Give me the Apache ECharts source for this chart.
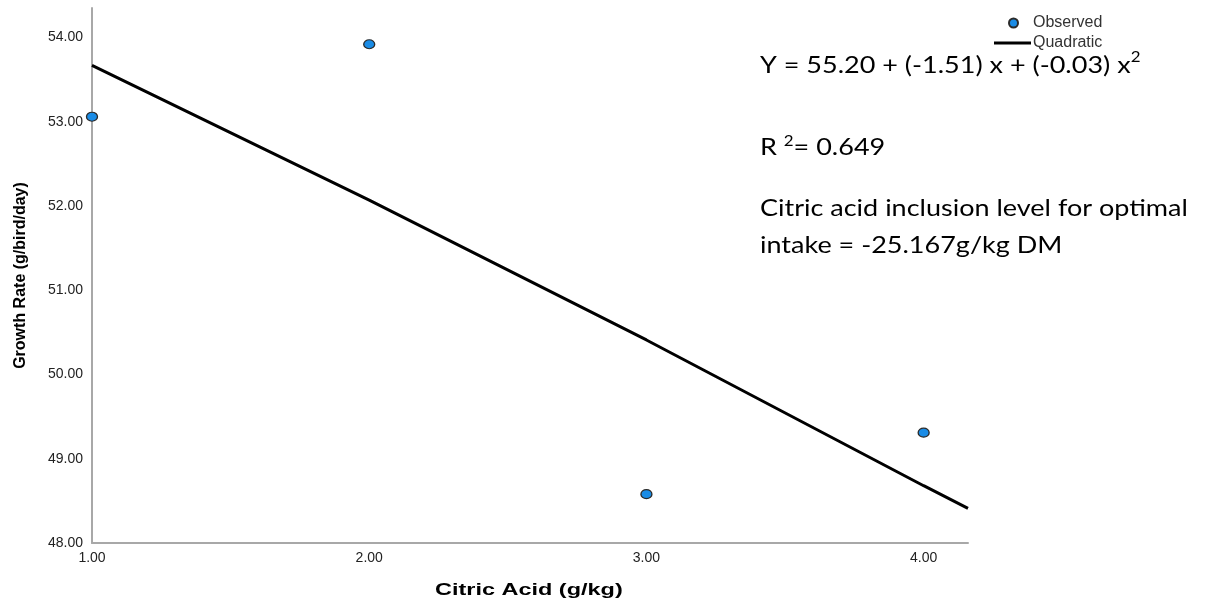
<!DOCTYPE html>
<html>
<head>
<meta charset="utf-8">
<script src="https://cdn.jsdelivr.net/npm/echarts@6/dist/echarts.min.js"></script>
<style>html,body{margin:0;padding:0;background:#fff;}#c{width:1207px;height:610px;}</style>
</head>
<body>
<div id="c"></div>
<script>
// Observed data
const xObserved = [1, 2, 3, 4];
const yObserved = [53.06, 53.92, 48.58, 49.31];
// Fitted quadratic curve
const xFit = [1, 2, 3, 4, 4.16];
const yFit = [53.67, 52.07, 50.41, 48.68, 48.41];
// Axis ranges
const xRange = [1, 4.16];
const yRange = [48, 54.35];
const xTitle = 'Citric Acid (g/kg)';
const yTitle = 'Growth Rate (g/bird/day)';
const legendNames = ['Observed', 'Quadratic'];
const eqMain = 'Y = 55.20 + (-1.51) x + (-0.03) x';
const r2Text = '= 0.649';
const noteLines = ['Citric acid inclusion level for optimal', 'intake = -25.167g/kg DM'];

const chart = echarts.init(document.getElementById('c'), null, {renderer: 'canvas'});
const axisFont = 'Liberation Sans, Arial, sans-serif';
const noteFont = 'Lato, Carlito, Calibri, sans-serif';
const sx = 1.125;
chart.setOption({
  animation: false,
  backgroundColor: '#fff',
  grid: {left: 92, top: 8, right: 239, bottom: 67, containLabel: false},
  legend: [
    {
      left: 1003, top: 10, itemWidth: 11, itemHeight: 9, icon: 'circle',
      textStyle: {fontFamily: axisFont, fontSize: 16, color: '#333', padding: [0, 0, 0, 9]},
      data: [legendNames[0]]
    },
    {
      left: 989, top: 30, itemWidth: 37, itemHeight: 3, icon: 'rect',
      textStyle: {fontFamily: axisFont, fontSize: 16, color: '#333', padding: [0, 0, 0, -3]},
      data: [legendNames[1]]
    }
  ],
  xAxis: {
    type: 'value', min: xRange[0], max: xRange[1], interval: 1,
    axisLine: {lineStyle: {color: '#a8a8a8', width: 2}},
    axisTick: {show: false}, splitLine: {show: false},
    axisLabel: {showMaxLabel: false, margin: 8, fontFamily: axisFont, fontSize: 14, color: '#222',
      formatter: v => v.toFixed(2)}
  },
  yAxis: {
    type: 'value', min: yRange[0], max: yRange[1], interval: 1,
    name: yTitle, nameLocation: 'middle', nameGap: 63, nameRotate: 90,
    nameTextStyle: {fontFamily: axisFont, fontSize: 16, fontWeight: 'bold', color: '#000'},
    axisLine: {show: true, lineStyle: {color: '#a8a8a8', width: 2}},
    axisTick: {show: false}, splitLine: {show: false},
    axisLabel: {showMaxLabel: false, margin: 9, fontFamily: axisFont, fontSize: 14, color: '#222',
      formatter: v => v.toFixed(2)}
  },
  series: [
    {
      name: legendNames[0], type: 'scatter', z: 3,
      symbol: 'circle', symbolSize: [11, 9],
      itemStyle: {color: '#1a8ce6', borderColor: '#2a2a2a', borderWidth: 1.2, opacity: 1},
      data: xObserved.map((x, i) => [x, yObserved[i]])
    },
    {
      name: legendNames[1], type: 'line', z: 2,
      symbol: 'none', smooth: false,
      lineStyle: {color: '#000', width: 3},
      itemStyle: {color: '#000'},
      data: xFit.map((x, i) => [x, yFit[i]])
    }
  ],
  graphic: [
    {type: 'text', left: 435, top: 582, scaleX: 1.38, style: {
      text: xTitle, fontFamily: axisFont, fontSize: 17, fontWeight: 'bold', fill: '#000'
    }},
    {type: 'text', left: 760, top: 50, scaleX: sx, style: {
      text: '{n|' + eqMain + '}{s|2}',
      rich: {n: {fontFamily: noteFont, fontSize: 24, fill: '#000', verticalAlign: 'bottom'},
             s: {fontFamily: noteFont, fontSize: 15, fill: '#000', verticalAlign: 'top', padding: [0,0,12,0]}}
    }},
    {type: 'text', left: 760, top: 134, scaleX: sx, style: {
      text: '{n|R }{s|2}{n|' + r2Text + '}',
      rich: {n: {fontFamily: noteFont, fontSize: 24, fill: '#000'},
             s: {fontFamily: noteFont, fontSize: 15, fill: '#000', padding: [0,0,12,0]}}
    }},
    {type: 'text', left: 760, top: 190, scaleX: sx, style: {
      text: noteLines.join('\n'),
      fontFamily: noteFont, fontSize: 24, lineHeight: 37, fill: '#000'
    }}
  ]
});
</script>
</body>
</html>
